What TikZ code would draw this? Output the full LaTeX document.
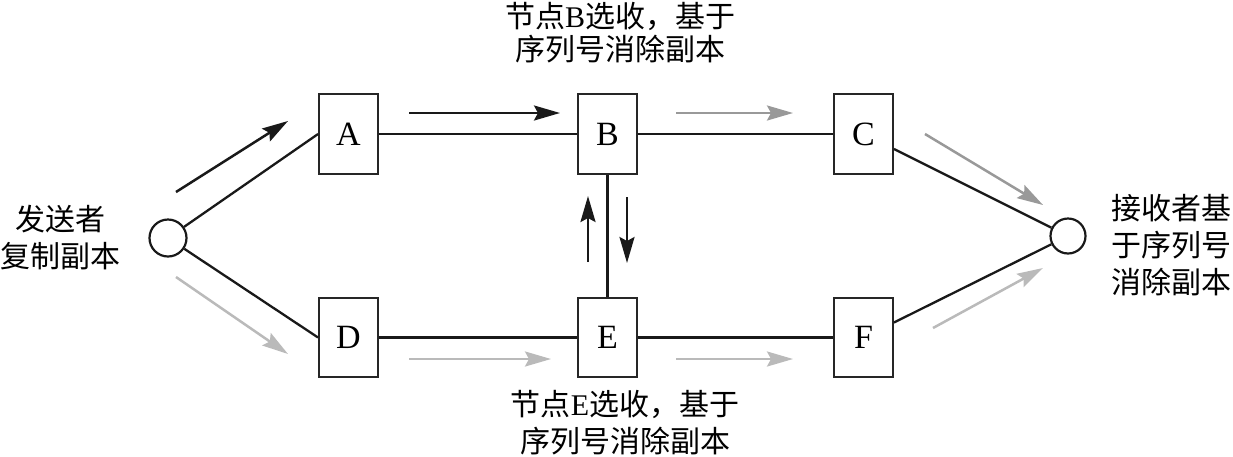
\documentclass[tikz,border=0pt]{standalone}
\usepackage{fontspec}
\setmainfont{Liberation Serif}
\newfontfamily\cjk{Noto Sans CJK SC}
\usetikzlibrary{arrows.meta}
\begin{document}
\begin{tikzpicture}[x=1pt,y=-1pt,
  box/.style={draw=black!85,line width=2.4pt,minimum width=58.5pt,minimum height=79.5pt,inner sep=0pt,font=\fontsize{34}{34}\selectfont},
  endpt/.style={draw=black!90,line width=2.2pt,circle,inner sep=0pt},
  link/.style={line width=2.3pt,draw=black!90},
  flow/.style={line width=2.5pt,-{Stealth[length=26pt,width=15pt,inset=4pt]}},
  blackflow/.style={flow,draw=black!90,fill=black!90},
  midflow/.style={flow,draw=black!40,fill=black!40},
  lightflow/.style={flow,draw=black!27,fill=black!27},
  label/.style={inner sep=0pt,font=\fontsize{30}{37}\selectfont\cjk}
]
\useasboundingbox (0,0) rectangle (1233,456);

\node[box] (A) at (348.5,134) {A};
\node[box] (B) at (607.5,134) {B};
\node[box] (C) at (863.5,134) {C};
\node[box] (D) at (348.5,337.5) {D};
\node[box] (E) at (607.5,337.5) {E};
\node[box] (F) at (863.5,337.5) {F};
\node[endpt,minimum size=37pt] (L) at (168,238) {};
\node[endpt,minimum size=35pt] (R) at (1068,236) {};

\draw[link] (L) -- (A.west);
\draw[link] (L) -- (D.west);
\draw[link] (A) -- (B);
\draw[link] (B) -- (C);
\draw[link] (D) -- (E);
\draw[link] (E) -- (F);
\draw[link] (B) -- (E);
\draw[link] ([yshift=-15pt]C.east) -- (R);
\draw[link] ([yshift=15pt]F.east) -- (R);

% flow arrows
\coordinate (a1) at (176,192); \coordinate (a2) at (288,121);
\coordinate (d1) at (176,277); \coordinate (d2) at (288,354);
\coordinate (ab1) at (409,113); \coordinate (ab2) at (560,113);
\coordinate (bc1) at (676,113); \coordinate (bc2) at (793,113);
\coordinate (de1) at (409,359); \coordinate (de2) at (551,359);
\coordinate (ef1) at (676,359); \coordinate (ef2) at (793,359);
\coordinate (up1) at (588,262); \coordinate (up2) at (588,196);
\coordinate (dn1) at (627,197); \coordinate (dn2) at (627,263);
\coordinate (cr1) at (925,134); \coordinate (cr2) at (1043,205);
\coordinate (fr1) at (933,328); \coordinate (fr2) at (1043,268);

\draw[blackflow] (a1) -- (a2);
\draw[lightflow] (d1) -- (d2);
\draw[blackflow] (ab1) -- (ab2);
\draw[midflow] (bc1) -- (bc2);
\draw[lightflow] (de1) -- (de2);
\draw[lightflow] (ef1) -- (ef2);
\draw[blackflow] (up1) -- (up2);
\draw[blackflow] (dn1) -- (dn2);
\draw[midflow] (cr1) -- (cr2);
\draw[lightflow] (fr1) -- (fr2);

% labels
\node[label,align=center,font=\fontsize{30}{33}\selectfont\cjk] (tB) at (620,33) {节点{\rmfamily B}选收，基于\\序列号消除副本};
\node[label,align=center] (tE) at (625,423) {节点{\rmfamily E}选收，基于\\序列号消除副本};
\node[label,align=center] (tL) at (60,238) {发送者\\复制副本};
\node[label,align=left,anchor=west] (tR) at (1111,245) {接收者基\\于序列号\\消除副本};
\end{tikzpicture}
\end{document}
